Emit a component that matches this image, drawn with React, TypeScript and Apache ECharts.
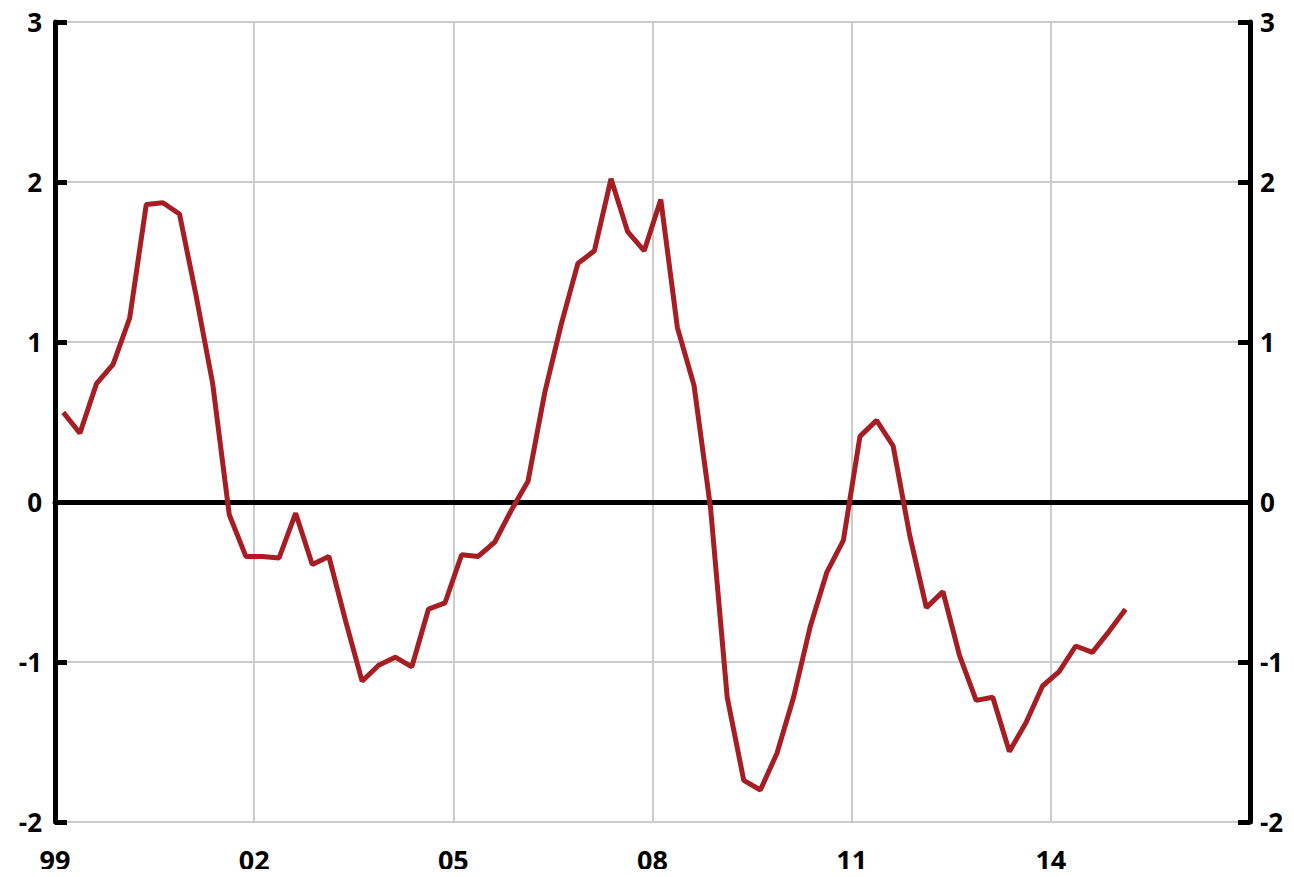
import React, { useEffect, useRef } from "react";
import * as echarts from "echarts";

// Quarterly values, 1999Q1 .. 2015Q1
const startYear = 1999;
const values: number[] = [
  0.56, 0.43, 0.74, 0.86, 1.15, 1.86, 1.87, 1.8, 1.29, 0.74,
  -0.08, -0.34, -0.34, -0.35, -0.07, -0.39, -0.34, -0.74, -1.12, -1.02,
  -0.97, -1.03, -0.67, -0.63, -0.33, -0.34, -0.25, -0.05, 0.13, 0.68,
  1.11, 1.49, 1.57, 2.02, 1.69, 1.57, 1.89, 1.09, 0.73, -0.04,
  -1.22, -1.74, -1.8, -1.57, -1.22, -0.78, -0.44, -0.24, 0.41, 0.51,
  0.35, -0.21, -0.66, -0.56, -0.96, -1.24, -1.22, -1.56, -1.38, -1.15,
  -1.06, -0.9, -0.94, -0.81, -0.67,
];
const xMin = 1999;
const xMax = 2017;
const xInterval = 3;
const yMin = -2;
const yMax = 3;

const FONT = "'Open Sans', 'Noto Sans', sans-serif";

export default function App() {
  const ref = useRef<HTMLDivElement>(null);
  useEffect(() => {
    if (!ref.current) return;
    const chart = echarts.init(ref.current, undefined, { renderer: "svg" });
    const data = values.map((v, i) => [startYear + i * 0.25 + 0.125, v]);
    const yAxisCommon = {
      type: "value",
      min: yMin,
      max: yMax,
      interval: 1,
      axisLine: { show: true, lineStyle: { color: "#000", width: 5 } },
      axisTick: { show: true, inside: true, length: 12, lineStyle: { color: "#000", width: 5 } },
      axisLabel: { color: "#000", fontSize: 26, fontWeight: "bold", fontFamily: FONT },
    };
    chart.setOption({
      animation: false,
      grid: { left: 55, right: 44, top: 22, bottom: 55, containLabel: false },
      xAxis: [
        {
          type: "value",
          min: xMin,
          max: xMax,
          interval: xInterval,
          position: "bottom",
          axisLine: { show: false, onZero: false },
          axisTick: { show: false },
          splitLine: { show: true, lineStyle: { color: "#cccccc", width: 2 } },
          axisLabel: {
            color: "#000",
            fontSize: 27,
            fontWeight: "bold",
            fontFamily: FONT,
            margin: 24,
            formatter: (v: number) => (v >= xMax ? "" : String(v % 100).padStart(2, "0")),
          },
        },
        {
          type: "value",
          min: xMin,
          max: xMax,
          position: "top",
          axisLine: { show: true, onZero: true, lineStyle: { color: "#000", width: 5 } },
          axisTick: { show: false },
          axisLabel: { show: false },
          splitLine: { show: false },
        },
      ],
      yAxis: [
        {
          ...yAxisCommon,
          position: "left",
          splitLine: { show: true, lineStyle: { color: "#cccccc", width: 2 } },
          axisLabel: { ...yAxisCommon.axisLabel, margin: 13 },
        },
        {
          ...yAxisCommon,
          position: "right",
          splitLine: { show: false },
          axisLabel: { ...yAxisCommon.axisLabel, margin: 10 },
        },
      ],
      series: [
        {
          type: "line",
          data,
          xAxisIndex: 0,
          yAxisIndex: 0,
          symbol: "none",
          lineStyle: { color: "#a61e24", width: 5 },
          z: 5,
        },
      ],
    });
    return () => chart.dispose();
  }, []);
  return <div ref={ref} style={{ width: 1294, height: 877, margin: -8 }} />;
}
